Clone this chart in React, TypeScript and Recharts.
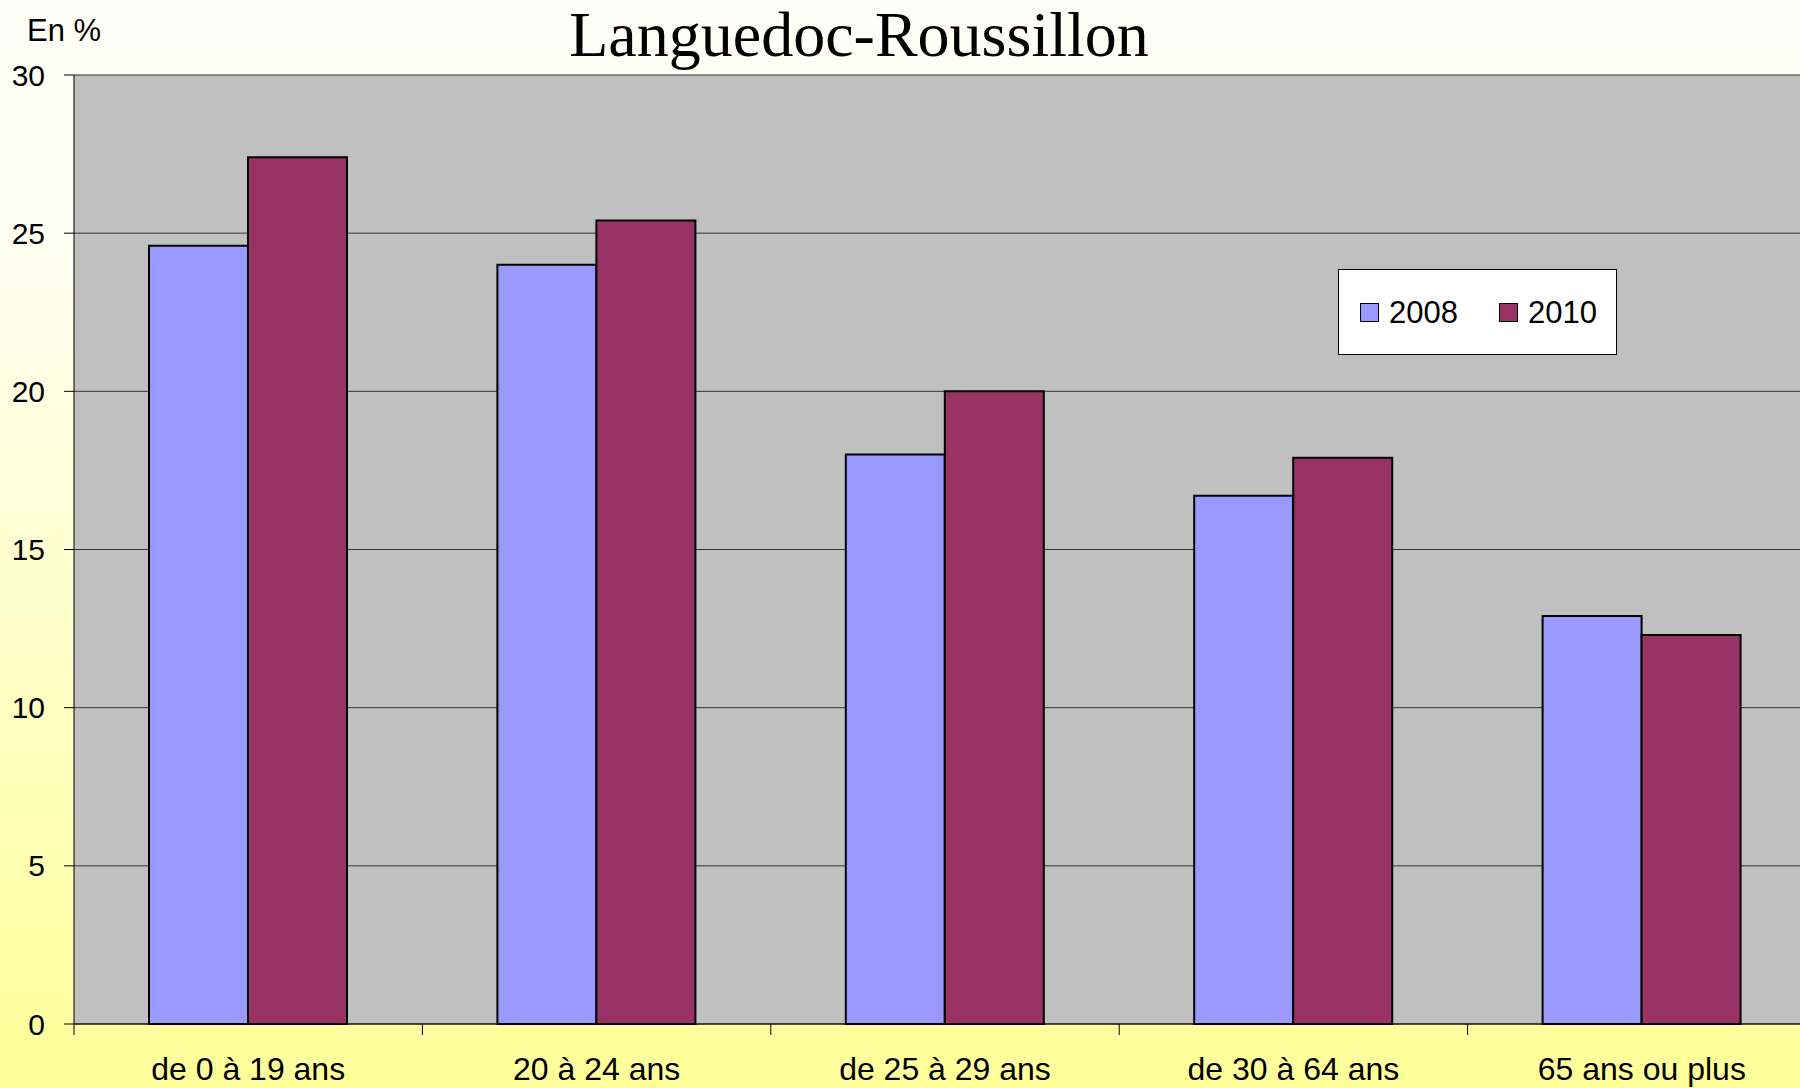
import { BarChart, Bar, XAxis, YAxis, CartesianGrid, Legend } from 'recharts'

const categories = ['de 0 à 19 ans', '20 à 24 ans', 'de 25 à 29 ans', 'de 30 à 64 ans', '65 ans ou plus']
const values2008 = [24.6, 24.0, 18.0, 16.7, 12.9]
const values2010 = [27.4, 25.4, 20.0, 17.9, 12.3]
const yTicks = [0, 5, 10, 15, 20, 25, 30]

const data = categories.map((category, i) => ({
  category,
  y2008: values2008[i],
  y2010: values2010[i],
}))

const SANS = '"Liberation Sans", Arial, sans-serif'

// category labels at the centre, tick marks on the category edges
const CategoryTick = (props: any) => {
  const { x, y, payload, index, width, visibleTicksCount } = props
  const band = width && visibleTicksCount ? width / visibleTicksCount : 0
  const left = x - band / 2
  const right = x + band / 2
  return (
    <g>
      <line x1={left} y1={y} x2={left} y2={y + 11} stroke="#000" strokeWidth={1} />
      {index === visibleTicksCount - 1 && (
        <line x1={right} y1={y} x2={right} y2={y + 11} stroke="#000" strokeWidth={1} />
      )}
      <text
        x={x}
        y={y + 56}
        textAnchor="middle"
        fontSize={32}
        fontFamily={SANS}
        fill="#000"
      >
        {payload.value}
      </text>
    </g>
  )
}

const renderLegend = (props: any) => {
  const { payload } = props
  return (
    <div
      style={{
        boxSizing: 'border-box',
        width: 279,
        height: 86,
        background: '#fff',
        border: '1px solid #000',
        display: 'flex',
        alignItems: 'center',
        paddingLeft: 21,
        fontFamily: SANS,
        fontSize: 31,
        color: '#000',
      }}
    >
      {payload.map((entry: any, i: number) => (
        <div key={entry.value} style={{ display: 'flex', alignItems: 'center', marginRight: i === 0 ? 41 : 0 }}>
          <span
            style={{
              boxSizing: 'border-box',
              display: 'inline-block',
              width: 19,
              height: 19,
              background: entry.color,
              border: '1.5px solid #000',
              marginRight: 10,
            }}
          />
          <span style={{ lineHeight: '31px' }}>{entry.value}</span>
        </div>
      ))}
    </div>
  )
}

export default function App() {
  return (
    <div
      style={{
        position: 'absolute',
        left: 0,
        top: 0,
        width: 1800,
        height: 1088,
        overflow: 'hidden',
        background: 'linear-gradient(to bottom, #FFFFF8 0%, #FFFFF2 22%, #FFFFC8 60%, #FFFF99 100%)',
      }}
    >
      <div
        style={{
          position: 'absolute',
          left: 27,
          top: 12,
          fontFamily: SANS,
          fontSize: 31,
          lineHeight: '38px',
          color: '#000',
        }}
      >
        En %
      </div>
      <div
        style={{
          position: 'absolute',
          left: 459,
          width: 800,
          top: -5,
          textAlign: 'center',
          fontFamily: '"Liberation Serif", "Times New Roman", serif',
          fontSize: 64,
          lineHeight: '80px',
          color: '#000',
        }}
      >
        Languedoc-Roussillon
      </div>
      <div style={{ position: 'absolute', left: 0, top: 0 }}>
        <BarChart
          width={1830}
          height={1088}
          data={data}
          margin={{ top: 75, right: 14, bottom: 0, left: 0 }}
          barGap={0}
          barSize={99}
        >
          <CartesianGrid vertical={false} stroke="#333" fill="#C0C0C0" fillOpacity={1} />
          <XAxis
            dataKey="category"
            height={64}
            tickLine={false}
            tickSize={0}
            tickMargin={0}
            axisLine={{ stroke: '#000', strokeWidth: 1 }}
            tick={<CategoryTick />}
            interval={0}
          />
          <YAxis
            width={74}
            domain={[0, 30]}
            ticks={yTicks}
            tickSize={10}
            tickMargin={19}
            tickLine={{ stroke: '#000' }}
            axisLine={{ stroke: '#000', strokeWidth: 1 }}
            tick={{ fill: '#000', fontSize: 30, fontFamily: SANS }}
          />
          <Legend
            layout="horizontal"
            verticalAlign="middle"
            align="center"
            content={renderLegend}
            wrapperStyle={{ left: 1338, top: 269, width: 279, height: 86 }}
          />
          <Bar dataKey="y2008" name="2008" fill="#9999FF" stroke="#000" strokeWidth={2} isAnimationActive={false} />
          <Bar dataKey="y2010" name="2010" fill="#993366" stroke="#000" strokeWidth={2} isAnimationActive={false} />
        </BarChart>
      </div>
    </div>
  )
}
